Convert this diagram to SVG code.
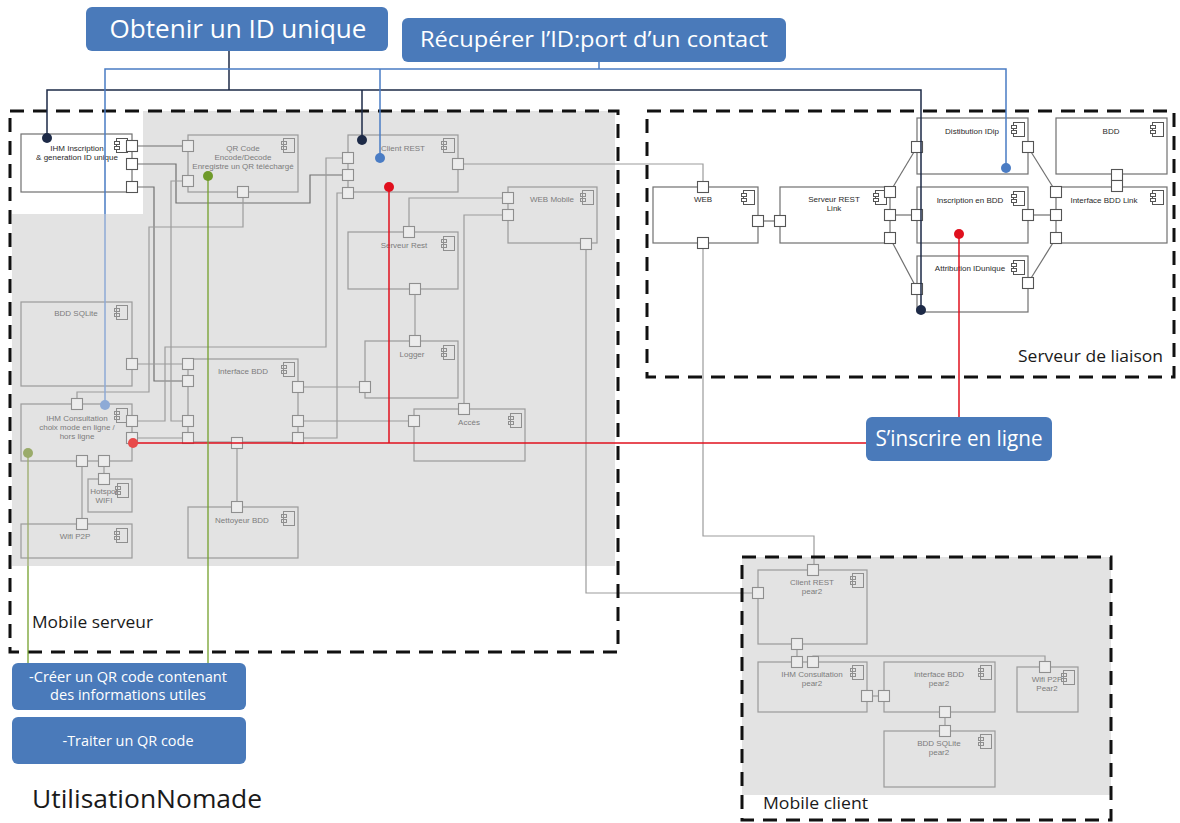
<svg xmlns="http://www.w3.org/2000/svg" xmlns:xlink="http://www.w3.org/1999/xlink" width="1180" height="823" viewBox="0 0 1180 823">
<style>
.bg{fill:#e3e3e3}
.dash{fill:none;stroke:#111;stroke-width:3;stroke-dasharray:14 9}
.cb{fill:none;stroke:#9a9a9a;stroke-width:1.2}
.cbd{fill:#fff;stroke:#707070;stroke-width:1.2}
.pt{fill:#ececec;stroke:#8f8f8f;stroke-width:1.1}
.ptd{fill:#fff;stroke:#555;stroke-width:1.1}
.ic{fill:none;stroke:#8f8f8f;stroke-width:1}
.icd{fill:#fff;stroke:#555;stroke-width:1}
.tx{font-family:"Liberation Sans",Arial,sans-serif;font-size:8px;fill:#7c7c7c;text-anchor:middle}
.txd{fill:#2a2a2a}
.wire{fill:none;stroke:#9c9c9c;stroke-width:1.2}
.wired{fill:none;stroke:#707070;stroke-width:1.2}
.lbl{fill:#4a7aba}
.lt{font-family:"Open Sans","Noto Sans",sans-serif;fill:#fff;text-anchor:middle}
.title{font-family:"Open Sans","Noto Sans",sans-serif;fill:#1a1a1a}
.nv{fill:none;stroke:#1d2a47;stroke-width:1.5}
.bl{fill:none;stroke:#4a7cc4;stroke-width:1.5}
.bll{fill:none;stroke:#8eaad6;stroke-width:1.5}
.rd{fill:none;stroke:#e0101e;stroke-width:1.5}
.gr{fill:none;stroke:#73a02c;stroke-width:1.3}
.grl{fill:none;stroke:#9aab6a;stroke-width:1.3}
</style>
<defs>
<rect id="p" x="-5.5" y="-5.5" width="11" height="11"/>
<g id="ic"><rect x="2.5" y="0.5" width="11" height="14"/><rect x="0.5" y="3.5" width="5" height="3"/><rect x="0.5" y="8.5" width="5" height="3"/></g>
</defs>

<!-- backgrounds -->
<polygon class="bg" points="12,214 143,214 143,111 615,111 615,566 12,566"/>
<rect class="bg" x="742" y="557" width="369" height="238"/>

<!-- grey wires -->
<g id="connectors">
<g class="wired">
<path d="M132,146 H188"/>
<path d="M132,164 H176 V203 H310 V175 H348"/>
<path d="M132,187 H154 V381 H188"/>
</g>
<g class="wire">
<path d="M188,181 H171 V421 H188"/>
<path d="M243,192 V227 H149 V392 H77 V404"/>
<path d="M132,364 H188"/>
<path d="M132,421 H165 V347 H326 V158 H348"/>
<path d="M132,438 H188"/>
<path d="M348,193 H337 V438 H298"/>
<path d="M458,164 H703 V187"/>
<path d="M508,198 H409 V232"/>
<path d="M508,215 H464 V409"/>
<path d="M586,244 V593 H758"/>
<path d="M415,289 V341"/>
<path d="M365,387 H298"/>
<path d="M298,421 H414"/>
<path d="M237,442 V507"/>
<path d="M82,461 V524"/>
<path d="M104,461 V479"/>
<path d="M703,243 V536 H814 V570"/>
<path d="M797,644 V662"/>
<path d="M813,662 V656 H1045 V667"/>
<path d="M867,696 H884"/>
<path d="M945,712 V731"/>
</g>
<g class="wired">
<path d="M758,221 H780"/>
<path d="M890,192 L917,147"/>
<path d="M890,215 H917"/>
<path d="M890,238 L917,289"/>
<path d="M1028,147 L1056,192"/>
<path d="M1028,215 H1056"/>
<path d="M1028,283 L1056,238"/>
<path d="M1117,174 V187"/>
</g>
</g>

<!-- Mobile serveur components -->
<g id="ihm-inscription">
<rect class="cbd" x="21" y="134" width="111" height="58"/>
<use href="#ic" x="114" y="138" class="icd"/>
<text class="tx txd" x="77" y="151">IHM Inscription</text>
<text class="tx txd" x="77" y="160">&amp; generation ID unique</text>
<use href="#p" x="132" y="146" class="ptd"/>
<use href="#p" x="132" y="164" class="ptd"/>
<use href="#p" x="132" y="187" class="ptd"/>
</g>
<g id="qr-code">
<rect class="cb" x="188" y="135" width="110" height="57"/>
<use href="#ic" x="281" y="138" class="ic"/>
<text class="tx" x="243" y="151">QR Code</text>
<text class="tx" x="243" y="160">Encode/Decode</text>
<text class="tx" x="243" y="169">Enregistre un QR téléchargé</text>
<use href="#p" x="188" y="146" class="pt"/>
<use href="#p" x="188" y="181" class="pt"/>
<use href="#p" x="243" y="192" class="pt"/>
</g>
<g id="client-rest">
<rect class="cb" x="348" y="135" width="110" height="57"/>
<use href="#ic" x="441" y="138" class="ic"/>
<text class="tx" x="403" y="151">Client REST</text>
<use href="#p" x="348" y="158" class="pt"/>
<use href="#p" x="348" y="175" class="pt"/>
<use href="#p" x="348" y="193" class="pt"/>
<use href="#p" x="458" y="164" class="pt"/>
</g>
<g id="web-mobile">
<rect class="cb" x="508" y="187" width="89" height="56"/>
<use href="#ic" x="580" y="190" class="ic"/>
<text class="tx" x="552" y="202">WEB Mobile</text>
<use href="#p" x="508" y="198" class="pt"/>
<use href="#p" x="508" y="215" class="pt"/>
<use href="#p" x="586" y="244" class="pt"/>
</g>
<g id="serveur-rest">
<rect class="cb" x="348" y="232" width="110" height="57"/>
<use href="#ic" x="441" y="236" class="ic"/>
<text class="tx" x="404" y="248">Serveur Rest</text>
<use href="#p" x="409" y="232" class="pt"/>
<use href="#p" x="415" y="289" class="pt"/>
</g>
<g id="bdd-sqlite">
<rect class="cb" x="21" y="302" width="111" height="84"/>
<use href="#ic" x="114" y="305" class="ic"/>
<text class="tx" x="76" y="316">BDD SQLite</text>
<use href="#p" x="132" y="364" class="pt"/>
</g>
<g id="interface-bdd">
<rect class="cb" x="188" y="359" width="110" height="83"/>
<use href="#ic" x="281" y="362" class="ic"/>
<text class="tx" x="243" y="374">Interface BDD</text>
<use href="#p" x="188" y="364" class="pt"/>
<use href="#p" x="188" y="381" class="pt"/>
<use href="#p" x="188" y="421" class="pt"/>
<use href="#p" x="188" y="438" class="pt"/>
<use href="#p" x="298" y="387" class="pt"/>
<use href="#p" x="298" y="421" class="pt"/>
<use href="#p" x="298" y="438" class="pt"/>
<use href="#p" x="237" y="443" class="pt"/>
</g>
<g id="logger">
<rect class="cb" x="365" y="341" width="93" height="57"/>
<use href="#ic" x="441" y="345" class="ic"/>
<text class="tx" x="412" y="357">Logger</text>
<use href="#p" x="415" y="341" class="pt"/>
<use href="#p" x="365" y="387" class="pt"/>
</g>
<g id="acces">
<rect class="cb" x="414" y="409" width="111" height="52"/>
<use href="#ic" x="508" y="413" class="ic"/>
<text class="tx" x="469" y="425">Accès</text>
<use href="#p" x="464" y="409" class="pt"/>
<use href="#p" x="414" y="421" class="pt"/>
</g>
<g id="ihm-consultation">
<rect class="cb" x="21" y="404" width="111" height="57"/>
<use href="#ic" x="114" y="408" class="ic"/>
<text class="tx" x="77" y="421">IHM Consultation</text>
<text class="tx" x="77" y="430">choix mode en ligne /</text>
<text class="tx" x="77" y="439">hors ligne</text>
<use href="#p" x="77" y="404" class="pt"/>
<use href="#p" x="132" y="421" class="pt"/>
<use href="#p" x="132" y="438" class="pt"/>
<use href="#p" x="82" y="461" class="pt"/>
<use href="#p" x="104" y="461" class="pt"/>
</g>
<g id="hotspot-wifi">
<rect class="cb" x="88" y="479" width="44" height="33"/>
<text class="tx" x="104" y="494">Hotspot</text>
<text class="tx" x="104" y="503">WIFI</text>
<use href="#ic" x="115" y="483" class="ic"/>
<use href="#p" x="104" y="479" class="pt"/>
</g>
<g id="wifi-p2p">
<rect class="cb" x="21" y="524" width="111" height="34"/>
<use href="#ic" x="114" y="528" class="ic"/>
<text class="tx" x="75" y="539">Wifi P2P</text>
<use href="#p" x="82" y="524" class="pt"/>
</g>
<g id="nettoyeur-bdd">
<rect class="cb" x="188" y="507" width="110" height="51"/>
<use href="#ic" x="281" y="511" class="ic"/>
<text class="tx" x="242" y="523">Nettoyeur BDD</text>
<use href="#p" x="237" y="507" class="pt"/>
</g>

<!-- Serveur de liaison components -->
<g id="web">
<rect class="cbd" x="653" y="187" width="105" height="56"/>
<use href="#ic" x="741" y="190" class="icd"/>
<text class="tx txd" x="703" y="202">WEB</text>
<use href="#p" x="703" y="187" class="ptd"/>
<use href="#p" x="758" y="221" class="ptd"/>
<use href="#p" x="703" y="243" class="ptd"/>
</g>
<g id="serveur-rest-link">
<rect class="cbd" x="780" y="187" width="110" height="56"/>
<use href="#ic" x="873" y="190" class="icd"/>
<text class="tx txd" x="834" y="202">Serveur REST</text>
<text class="tx txd" x="834" y="211">Link</text>
<use href="#p" x="780" y="221" class="ptd"/>
<use href="#p" x="890" y="192" class="ptd"/>
<use href="#p" x="890" y="215" class="ptd"/>
<use href="#p" x="890" y="238" class="ptd"/>
</g>
<g id="distribution-idip">
<rect class="cbd" x="917" y="118" width="111" height="56"/>
<use href="#ic" x="1011" y="122" class="icd"/>
<text class="tx txd" x="972" y="134">Distibution IDip</text>
<use href="#p" x="917" y="147" class="ptd"/>
<use href="#p" x="1028" y="147" class="ptd"/>
</g>
<g id="inscription-bdd">
<rect class="cbd" x="917" y="187" width="111" height="56"/>
<use href="#ic" x="1011" y="191" class="icd"/>
<text class="tx txd" x="970" y="203">Inscription en BDD</text>
<use href="#p" x="917" y="215" class="ptd"/>
<use href="#p" x="1028" y="215" class="ptd"/>
</g>
<g id="attribution-idunique">
<rect class="cbd" x="917" y="256" width="111" height="56"/>
<use href="#ic" x="1011" y="260" class="icd"/>
<text class="tx txd" x="970" y="271">Attribution IDunique</text>
<use href="#p" x="917" y="289" class="ptd"/>
<use href="#p" x="1028" y="283" class="ptd"/>
</g>
<g id="bdd">
<rect class="cbd" x="1056" y="118" width="111" height="56"/>
<use href="#ic" x="1150" y="122" class="icd"/>
<text class="tx txd" x="1111" y="134">BDD</text>
<use href="#p" x="1117" y="175" class="ptd"/>
</g>
<g id="interface-bdd-link">
<rect class="cbd" x="1056" y="187" width="111" height="56"/>
<use href="#ic" x="1150" y="190" class="icd"/>
<text class="tx txd" x="1104" y="203">Interface BDD Link</text>
<use href="#p" x="1117" y="186" class="ptd"/>
<use href="#p" x="1056" y="192" class="ptd"/>
<use href="#p" x="1056" y="215" class="ptd"/>
<use href="#p" x="1056" y="238" class="ptd"/>
</g>

<!-- Mobile client components -->
<g id="client-rest-pear2">
<rect class="cb" x="758" y="570" width="109" height="74"/>
<use href="#ic" x="850" y="573" class="ic"/>
<text class="tx" x="812" y="585">Client REST</text>
<text class="tx" x="812" y="594">pear2</text>
<use href="#p" x="813" y="570" class="pt"/>
<use href="#p" x="758" y="593" class="pt"/>
<use href="#p" x="797" y="644" class="pt"/>
</g>
<g id="ihm-consultation-pear2">
<rect class="cb" x="758" y="662" width="109" height="50"/>
<use href="#ic" x="850" y="665" class="ic"/>
<text class="tx" x="812" y="677">IHM Consultation</text>
<text class="tx" x="812" y="686">pear2</text>
<use href="#p" x="797" y="662" class="pt"/>
<use href="#p" x="813" y="662" class="pt"/>
<use href="#p" x="867" y="696" class="pt"/>
</g>
<g id="interface-bdd-pear2">
<rect class="cb" x="884" y="662" width="111" height="50"/>
<use href="#ic" x="978" y="665" class="ic"/>
<text class="tx" x="939" y="677">Interface BDD</text>
<text class="tx" x="939" y="686">pear2</text>
<use href="#p" x="884" y="696" class="pt"/>
<use href="#p" x="945" y="712" class="pt"/>
</g>
<g id="bdd-sqlite-pear2">
<rect class="cb" x="884" y="731" width="111" height="56"/>
<use href="#ic" x="978" y="734" class="ic"/>
<text class="tx" x="939" y="746">BDD SQLite</text>
<text class="tx" x="939" y="755">pear2</text>
<use href="#p" x="945" y="731" class="pt"/>
</g>
<g id="wifi-p2p-pear2">
<rect class="cb" x="1017" y="667" width="61" height="45"/>
<text class="tx" x="1047" y="682">Wifi P2P</text>
<text class="tx" x="1047" y="691">Pear2</text>
<use href="#ic" x="1061" y="670" class="ic"/>
<use href="#p" x="1045" y="667" class="pt"/>
</g>

<!-- containers -->
<g id="mobile-serveur">
<rect class="dash" x="10" y="111" width="608" height="541"/>
<text class="title" x="32" y="628" font-size="16" textLength="121" lengthAdjust="spacingAndGlyphs">Mobile serveur</text>
</g>
<g id="serveur-de-liaison">
<rect class="dash" x="647" y="111" width="527" height="266"/>
<text class="title" x="1018" y="362" font-size="17" textLength="145" lengthAdjust="spacingAndGlyphs">Serveur de liaison</text>
</g>
<g id="mobile-client">
<rect class="dash" x="742" y="557" width="369" height="263"/>
<text class="title" x="763" y="809" font-size="16" textLength="105" lengthAdjust="spacingAndGlyphs">Mobile client</text>
</g>

<!-- use-case links -->
<g id="usecase-links">
<path class="nv" d="M229,51 V90"/>
<path class="nv" d="M47,138 V90 H921 V310"/>
<path class="nv" d="M362,90 V140"/>
<path class="bl" d="M599,62 V69"/>
<path class="bl" d="M105,214 V69 H1006 V168"/>
<path class="bll" d="M105,405 V214"/>
<path class="bl" d="M380,69 V158"/>
<path class="rd" d="M389,187 V443"/>
<path class="rd" d="M133,443 H866"/>
<path class="rd" d="M959,234 V417"/>
<path class="gr" d="M208,176 V663"/>
<path class="grl" d="M28,453 V566"/>
<path class="gr" d="M28,566 V663"/>
<circle cx="47" cy="138" r="5" fill="#1d2a47"/>
<circle cx="362" cy="140" r="5" fill="#1d2a47"/>
<circle cx="921" cy="310" r="5" fill="#1d2a47"/>
<circle cx="380" cy="158" r="5" fill="#4a7cc4"/>
<circle cx="1006" cy="168" r="5" fill="#4a7cc4"/>
<circle cx="105" cy="405" r="5" fill="#8eaad6"/>
<circle cx="389" cy="187" r="5" fill="#e0101e"/>
<circle cx="959" cy="234" r="5" fill="#e0101e"/>
<circle cx="133" cy="443" r="5" fill="#e84a4a"/>
<circle cx="208" cy="176" r="5" fill="#6f9a2a"/>
<circle cx="28" cy="453" r="5" fill="#9aab6a"/>
</g>

<!-- use-case labels -->
<g id="obtenir-id">
<rect class="lbl" x="86" y="7" width="302" height="44" rx="6"/>
<text class="lt" x="238" y="38" font-size="26" textLength="257" lengthAdjust="spacingAndGlyphs">Obtenir un ID unique</text>
</g>
<g id="recuperer-id">
<rect class="lbl" x="402" y="18" width="384" height="44" rx="6"/>
<text class="lt" x="594" y="47" font-size="21" textLength="348" lengthAdjust="spacingAndGlyphs">Récupérer l’ID:port d’un contact</text>
</g>
<g id="sinscrire">
<rect class="lbl" x="866" y="417" width="186" height="44" rx="6"/>
<text class="lt" x="959" y="446" font-size="21" textLength="167" lengthAdjust="spacingAndGlyphs">S’inscrire en ligne</text>
</g>
<g id="creer-qr">
<rect class="lbl" x="12" y="663" width="234" height="47" rx="6"/>
<text class="lt" x="128" y="682" font-size="15" textLength="198" lengthAdjust="spacingAndGlyphs">-Créer un QR code contenant</text>
<text class="lt" x="128" y="700" font-size="15" textLength="156" lengthAdjust="spacingAndGlyphs">des informations utiles</text>
</g>
<g id="traiter-qr">
<rect class="lbl" x="12" y="717" width="234" height="47" rx="6"/>
<text class="lt" x="128" y="746" font-size="15" textLength="131" lengthAdjust="spacingAndGlyphs">-Traiter un QR code</text>
</g>
<text class="title" x="32" y="808" font-size="25" textLength="230" lengthAdjust="spacingAndGlyphs">UtilisationNomade</text>
</svg>
